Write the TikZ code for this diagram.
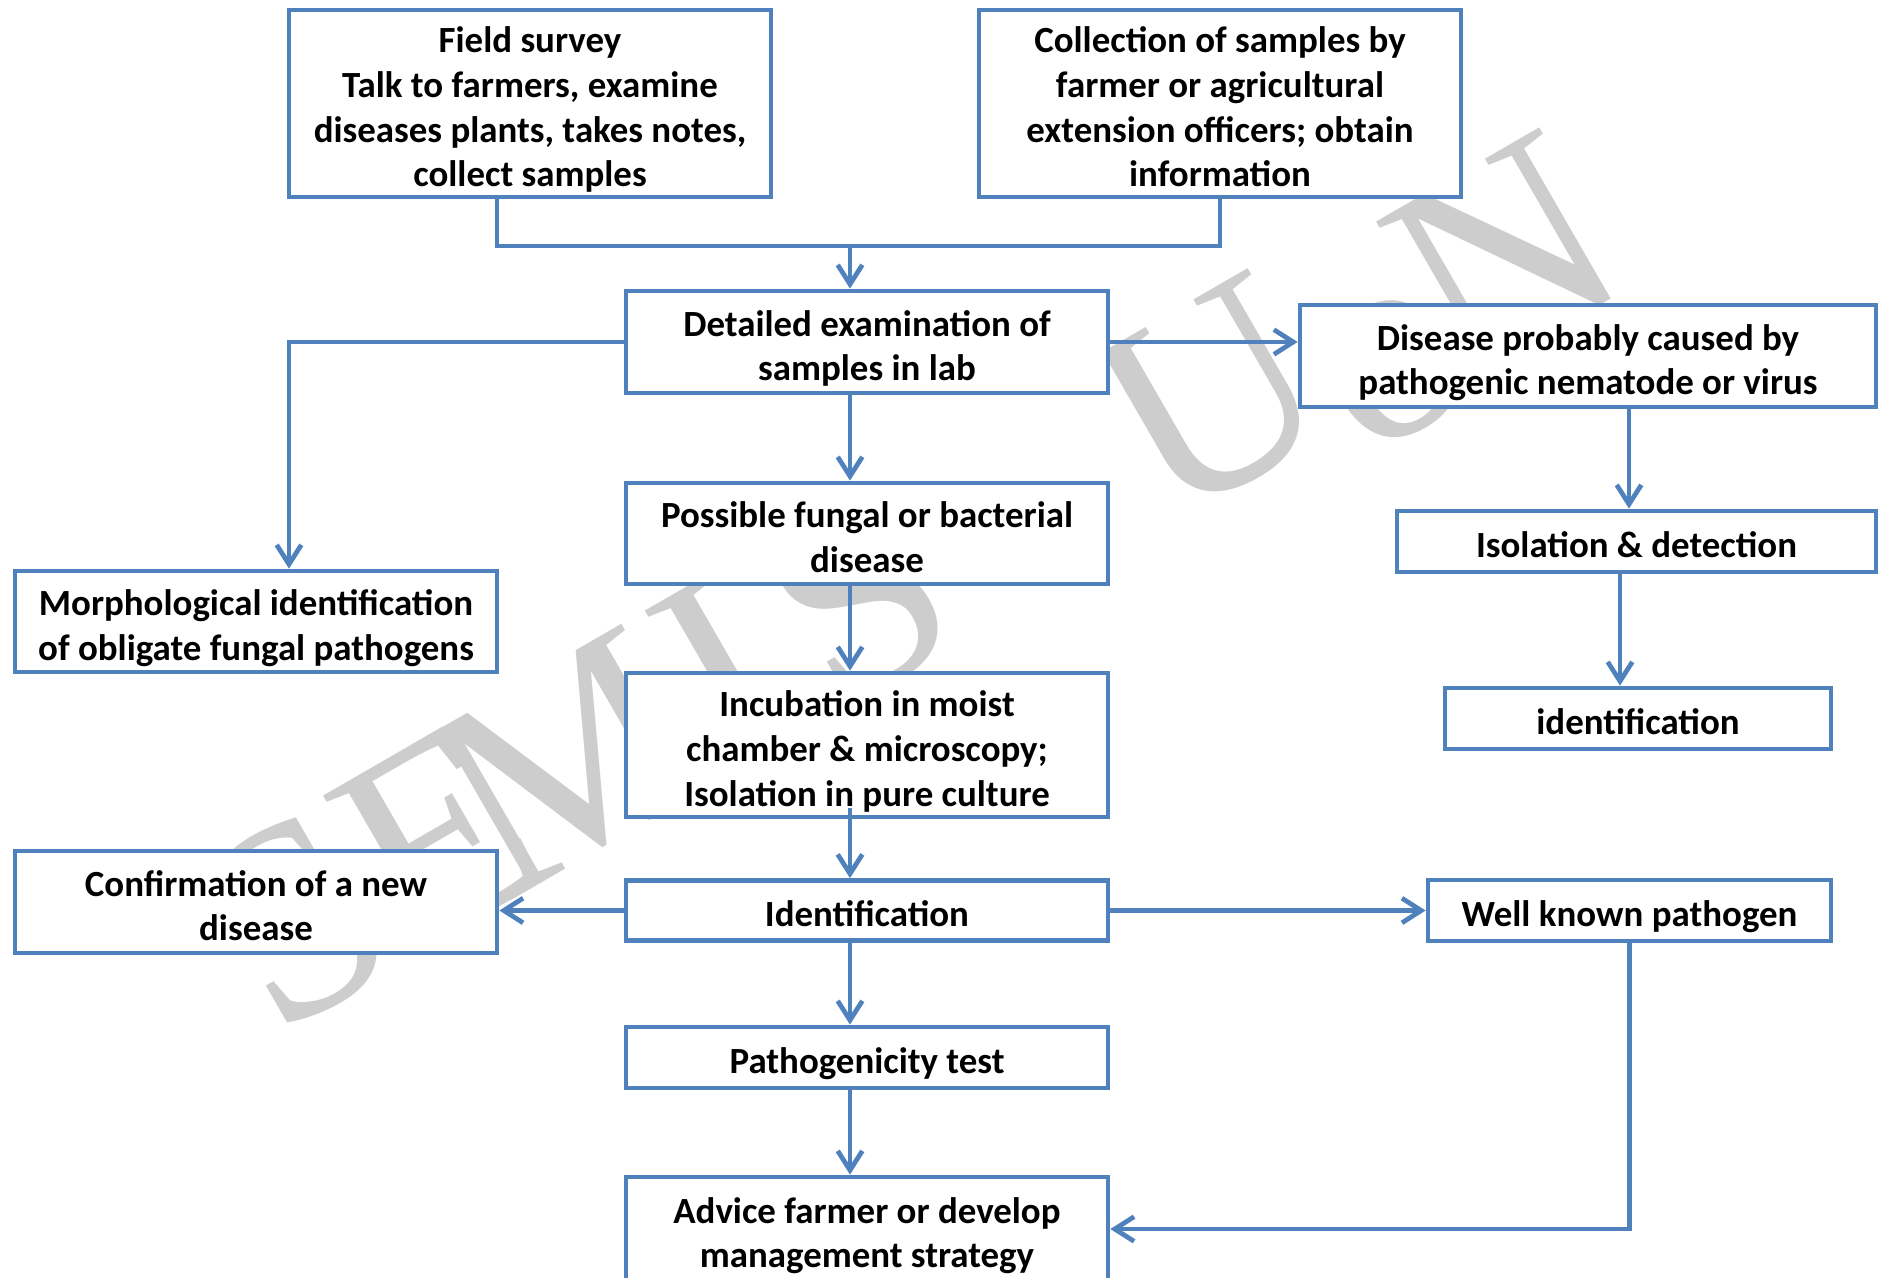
\documentclass[tikz,border=0pt]{standalone}
\usepackage{fontspec}
\setmainfont{Carlito}
\newfontfamily\wmfont{Liberation Serif}
\usetikzlibrary{arrows.meta}
\definecolor{boxblue}{RGB}{79,129,189}
\definecolor{wmgrey}{RGB}{205,205,205}
\newcommand{\ta}{\rule{0pt}{24.4pt}}
\newcommand{\tb}{\rule[-5.7pt]{0pt}{5.7pt}}
\begin{document}
\begin{tikzpicture}[x=0.02cm, y=-0.02cm,
  box/.style={draw=boxblue, line width=0.095cm, fill=white, inner sep=0pt, align=center,
              font=\fontsize{21}{25.4}\selectfont\bfseries},
  conn/.style={draw=boxblue, line width=0.095cm},
  arr/.style={conn, -{Straight Barb[length=11pt,width=14pt]}},
  wm/.style={text=wmgrey, font=\wmfont\fontsize{160}{160}\selectfont, rotate=30, inner sep=0pt, anchor=base}]
\useasboundingbox (0,0) rectangle (1878,1277);
\clip (0,0) rectangle (1878,1277);
% watermark
\node[wm] (wm1) at (342,999) {S};
\node[wm] (wm2) at (483,917) {E};
\node[wm] (wm3) at (613,842) {M};
\node[wm] (wm4) at (769,752) {I};
\node[wm] (wm5) at (903,675) {S};
\node[wm] (wm6) at (1257,476) {U};
\node[wm] (wm7) at (1425,425) {o};
\node[wm] (wm8) at (1549,335) {N};
% boxes
\node[box, minimum width=9.64cm, minimum height=3.70cm] (field) at (530,103.5)
  {\ta Field survey\\Talk to farmers, examine\\diseases plants, takes notes,\\collect samples\tb};
\node[box, minimum width=9.64cm, minimum height=3.70cm] (collect) at (1220,103.5)
  {\ta Collection of samples by\\farmer or agricultural\\extension officers; obtain\\information\tb};
\node[box, minimum width=9.64cm, minimum height=2.04cm] (detailed) at (867,342)
  {\ta Detailed examination of\\samples in lab\tb};
\node[box, minimum width=11.52cm, minimum height=2.04cm] (disease) at (1588,356)
  {\ta Disease probably caused by\\pathogenic nematode or virus\tb};
\node[box, minimum width=9.64cm, minimum height=2.02cm] (possible) at (867,533.5)
  {\ta Possible fungal or bacterial\\disease\tb};
\node[box, minimum width=9.64cm, minimum height=2.02cm] (morph) at (256,621.5)
  {\ta Morphological identification\\of obligate fungal pathogens\tb};
\node[box, minimum width=9.58cm, minimum height=1.22cm] (isolation) at (1636.5,541.5)
  {\ta Isolation \& detection\tb};
\node[box, minimum width=7.72cm, minimum height=1.22cm] (identr) at (1638,718.5)
  {\ta identification\tb};
\node[box, minimum width=9.64cm, minimum height=2.88cm] (incub) at (867,745)
  {\ta Incubation in moist\\chamber \& microscopy;\\Isolation in pure culture\tb};
\node[box, minimum width=9.64cm, minimum height=2.04cm] (confirm) at (256,902)
  {\ta Confirmation of a new\\disease\tb};
\node[box, minimum width=9.64cm, minimum height=1.20cm] (ident) at (867,910.5)
  {\ta Identification\tb};
\node[box, minimum width=8.06cm, minimum height=1.22cm] (well) at (1629.5,910.5)
  {\ta Well known pathogen\tb};
\node[box, minimum width=9.64cm, minimum height=1.22cm] (patho) at (867,1057.5)
  {\ta Pathogenicity test\tb};
\node[box, minimum width=9.64cm, minimum height=2.08cm] (advice) at (867,1229)
  {\ta Advice farmer or develop\\management strategy\tb};
% connectors
\coordinate (j1) at (850,246);
\draw[conn] ([xshift=-0.66cm]field.south) |- (j1) -| (collect.south);
\draw[arr] (j1) -- (j1 |- detailed.north);
\draw[arr] (detailed.east) -- (detailed.east -| disease.west);
\draw[arr] (detailed.west) -| ([xshift=0.66cm]morph.north);
\draw[arr] (j1 |- detailed.south) -- (j1 |- possible.north);
\draw[arr] (j1 |- possible.south) -- (j1 |- incub.north);
\draw[arr] ([yshift=0.22cm]j1 |- incub.south) -- (j1 |- ident.north);
\draw[arr] (ident.west) -- (ident.west -| confirm.east);
\draw[arr] (ident.east) -- (ident.east -| well.west);
\draw[arr] (j1 |- ident.south) -- (j1 |- patho.north);
\draw[arr] (j1 |- patho.south) -- (j1 |- advice.north);
\draw[arr] (well.south) |- (advice.east);
\draw[arr] ([xshift=0.82cm]disease.south) -- ([xshift=0.82cm]disease.south |- isolation.north);
\draw[arr] ([xshift=-0.33cm]isolation.south) -- ([xshift=-0.33cm]isolation.south |- identr.north);
\end{tikzpicture}
\end{document}
